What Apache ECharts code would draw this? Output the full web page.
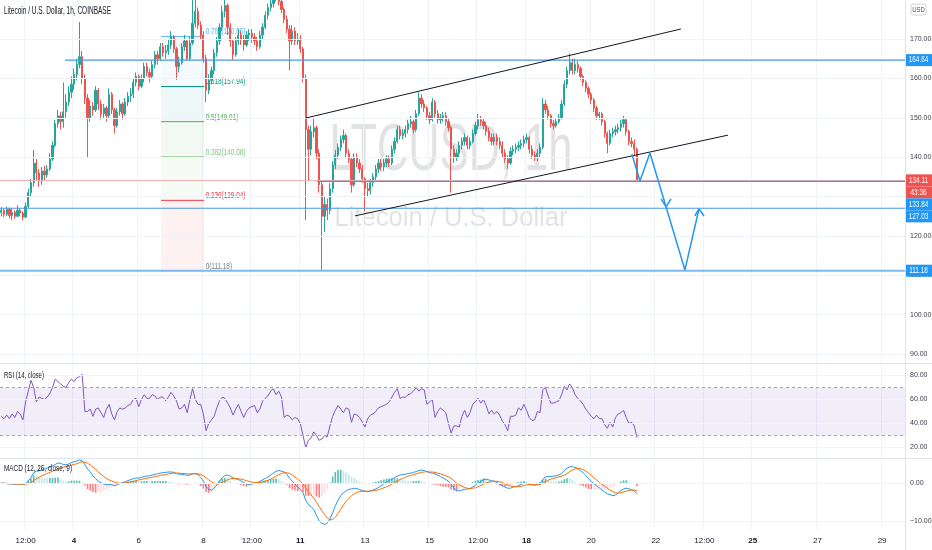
<!DOCTYPE html>
<html><head><meta charset="utf-8">
<script src="https://cdn.jsdelivr.net/npm/echarts@6/dist/echarts.min.js"></script>
<style>html,body{margin:0;padding:0;background:#fff}#c{width:932px;height:550px}</style>
</head><body><div id="c"></div>
<script>
// ---------------- DATA ----------------
const FIRST_SLOT = '2021-01-01 18:00';   // centre of first 2-hour slot
const SLOT_HOURS = 2;
const SLOT_COUNT = 336;

// [open, close, low, high], one per 2-hour slot
const candles = [
[126.0,126.5,125.0,127.3],[126.5,125.5,124.8,127.0],[125.5,126.8,125.0,127.5],[126.8,125.2,124.5,127.2],[125.2,126.0,124.0,126.8],
[126.0,125.0,124.3,126.5],[125.0,126.5,124.8,127.8],[126.5,125.8,125.0,127.0],[125.8,124.8,124.0,126.3],[124.8,127.5,124.5,128.5],
[127.5,131.0,127.0,132.0],[131.0,133.5,130.0,134.5],[133.5,138.5,132.5,141.8],[138.5,136.0,134.0,139.5],[136.0,134.0,132.5,137.0],
[134.0,136.5,133.0,137.5],[136.5,135.5,134.0,137.8],[135.5,137.0,134.8,138.0],[137.0,139.5,136.5,141.0],[139.5,143.0,139.0,144.0],
[143.0,148.5,142.5,149.5],[148.5,150.5,147.5,152.0],[150.5,149.0,147.0,151.5],[149.0,151.5,147.5,159.0],[151.5,154.0,150.0,156.0],
[154.0,156.5,153.0,158.0],[156.5,158.5,155.0,160.5],[158.5,161.0,157.0,162.5],[161.0,163.5,159.5,165.0],[163.5,165.5,162.5,174.3],
[165.5,160.0,158.5,167.0],[160.0,155.0,153.5,161.0],[155.0,150.0,140.0,156.0],[150.0,153.0,149.0,154.5],[153.0,152.0,150.5,154.0],
[152.0,157.0,151.5,158.0],[157.0,153.5,152.0,157.5],[153.5,151.0,149.5,154.5],[151.0,152.5,150.0,153.5],[152.5,150.5,149.0,153.0],
[150.5,156.0,150.0,157.5],[156.0,152.0,151.0,156.5],[152.0,148.0,146.0,152.5],[148.0,151.5,147.5,152.5],[151.5,153.5,150.5,154.5],
[153.5,151.0,149.5,154.0],[151.0,154.0,150.5,155.0],[154.0,155.5,153.0,156.5],[155.5,156.0,154.0,157.5],[156.0,159.0,155.0,160.0],
[159.0,160.5,158.0,161.5],[160.5,158.0,157.0,161.0],[158.0,160.0,157.5,161.0],[160.0,163.0,159.0,164.0],[163.0,161.5,160.5,164.0],
[161.5,160.5,159.0,162.5],[160.5,163.5,160.0,164.5],[163.5,166.0,162.5,167.0],[166.0,165.0,163.5,167.0],[165.0,168.0,164.5,169.0],
[168.0,166.5,165.5,169.0],[166.5,167.0,165.0,168.5],[167.0,168.5,166.0,170.0],[168.5,170.5,167.5,172.0],[170.5,167.5,166.5,171.0],
[167.5,163.0,159.6,168.0],[163.0,164.0,161.5,165.5],[164.0,168.0,163.5,169.0],[168.0,169.5,167.0,171.0],[169.5,165.0,164.5,170.0],
[165.0,169.0,164.5,170.5],[169.0,174.0,168.5,181.0],[174.0,177.0,173.0,182.0],[177.0,173.5,172.5,178.0],[173.5,171.0,170.0,174.5],
[171.0,165.0,164.0,172.0],[165.0,157.0,154.0,166.0],[157.0,159.5,156.0,161.0],[159.5,162.0,158.5,163.0],[162.0,166.5,161.0,167.5],
[166.5,169.5,165.5,170.5],[169.5,173.0,168.5,174.0],[173.0,177.0,172.0,178.5],[177.0,178.5,175.5,183.0],[178.5,173.0,171.0,179.0],
[173.0,169.5,168.0,174.0],[169.5,166.0,164.7,170.0],[166.0,169.5,165.5,170.5],[169.5,171.0,168.5,172.5],[171.0,170.0,168.5,172.0],
[170.0,168.5,167.0,171.0],[168.5,171.0,168.0,172.0],[171.0,171.5,169.5,172.5],[171.5,170.5,169.0,172.5],[170.5,169.5,168.5,171.5],
[169.5,168.0,167.0,170.5],[168.0,171.0,167.5,172.0],[171.0,173.0,170.0,174.0],[173.0,176.0,172.5,177.0],[176.0,178.0,175.0,179.0],
[178.0,179.0,177.0,180.5],[179.0,180.5,178.0,182.0],[180.5,181.5,179.5,184.0],[181.5,179.5,178.5,182.5],[179.5,177.5,176.5,180.5],
[177.5,175.0,174.0,178.0],[175.0,172.5,171.5,176.0],[172.5,169.5,162.0,173.5],[169.5,172.0,168.5,173.5],[172.0,169.5,168.5,173.0],
[169.5,170.0,168.5,171.5],[170.0,167.5,166.5,171.0],[167.5,160.0,159.0,168.0],[160.0,147.0,124.0,161.0],[147.0,142.0,134.0,148.0],
[142.0,146.5,140.5,148.0],[146.5,147.5,145.0,150.0],[147.5,141.0,139.5,148.0],[141.0,133.0,131.0,142.0],[133.0,125.0,111.2,134.0],
[125.0,128.0,121.0,130.0],[128.0,126.5,124.0,129.5],[126.5,132.0,125.5,133.5],[132.0,138.0,131.0,139.0],[138.0,140.5,137.0,141.8],
[140.5,142.5,139.5,143.5],[142.5,144.5,141.5,145.5],[144.5,145.5,143.5,147.0],[145.5,141.0,140.0,146.0],[141.0,139.5,138.5,142.0],
[139.5,133.0,131.0,140.0],[133.0,140.0,132.5,141.0],[140.0,138.5,137.5,141.0],[138.5,137.0,136.0,139.5],[137.0,134.5,133.5,138.0],
[134.5,132.0,126.2,135.0],[132.0,131.5,130.0,133.5],[131.5,133.5,130.5,134.5],[133.5,135.0,132.5,136.0],[135.0,137.0,134.0,138.0],
[137.0,138.5,136.0,139.5],[138.5,137.5,136.5,139.5],[137.5,138.5,136.5,139.5],[138.5,139.5,137.5,140.5],[139.5,138.5,137.5,140.5],
[138.5,142.0,138.0,143.0],[142.0,144.0,141.0,145.0],[144.0,147.0,143.5,148.0],[147.0,145.5,144.5,148.0],[145.5,146.0,144.5,147.0],
[146.0,147.0,145.0,148.0],[147.0,148.5,146.0,149.5],[148.5,149.0,147.5,150.5],[149.0,147.0,146.0,149.5],[147.0,151.0,146.5,152.0],
[151.0,155.0,150.5,156.5],[155.0,153.5,152.5,156.0],[153.5,152.5,151.5,154.5],[152.5,150.5,149.5,153.0],[150.5,149.5,148.5,151.5],
[149.5,154.0,149.0,155.0],[154.0,151.0,150.0,154.5],[151.0,149.5,148.5,152.0],[149.5,150.0,148.5,151.0],[150.0,150.5,149.0,151.5],
[150.5,149.0,148.0,151.5],[149.0,147.5,146.5,150.0],[147.5,142.0,131.0,148.0],[142.0,140.0,138.5,143.0],[140.0,141.0,139.0,142.0],
[141.0,143.0,140.0,144.0],[143.0,144.0,142.0,145.0],[144.0,145.0,143.0,146.0],[145.0,143.0,142.0,145.5],[143.0,144.0,142.0,145.0],
[144.0,146.0,143.5,147.0],[146.0,148.0,145.5,149.0],[148.0,149.5,147.0,151.0],[149.5,149.0,148.0,150.5],[149.0,148.0,147.0,150.0],
[148.0,146.5,145.5,149.0],[146.5,145.0,144.0,147.5],[145.0,144.0,143.0,146.0],[144.0,145.0,143.0,146.0],[145.0,144.0,143.0,146.0],
[144.0,143.0,142.0,145.0],[143.0,141.0,140.0,144.0],[141.0,139.5,138.5,142.0],[139.5,138.5,137.0,140.5],[138.5,141.5,138.0,142.5],
[141.5,142.0,140.5,143.0],[142.0,142.5,141.0,143.5],[142.5,143.0,141.5,144.0],[143.0,143.5,142.0,144.5],[143.5,144.5,142.5,145.5],
[144.5,145.0,143.5,146.0],[145.0,142.0,141.0,145.5],[142.0,140.5,139.5,143.0],[140.5,140.0,139.0,141.5],[140.0,141.0,139.0,142.0],
[141.0,142.5,140.0,143.5],[142.5,153.5,142.0,155.0],[153.5,152.0,151.0,154.5],[152.0,150.5,149.5,153.0],[150.5,148.5,147.5,151.0],
[148.5,148.0,147.0,149.5],[148.0,149.0,147.5,150.0],[149.0,150.0,148.5,151.0],[150.0,153.5,149.5,154.5],[153.5,158.5,153.0,159.5],
[158.5,162.0,157.5,163.0],[162.0,164.0,161.0,166.3],[164.0,162.0,161.0,165.0],[162.0,163.5,161.0,165.0],[163.5,162.5,161.5,164.5],
[162.5,160.5,159.5,163.0],[160.5,159.0,158.0,161.0],[159.0,157.5,156.5,159.5],[157.5,156.0,155.0,158.0],[156.0,154.5,153.5,156.5],
[154.5,152.5,151.5,155.0],[152.5,150.5,149.5,153.0],[150.5,151.0,149.5,151.5],[151.0,149.0,148.0,151.5],[149.0,146.0,145.0,149.5],
[146.0,143.5,141.0,146.5],[143.5,146.0,143.0,147.0],[146.0,146.5,145.0,147.5],[146.5,147.0,145.5,148.0],[147.0,147.5,146.0,148.5],
[147.5,148.5,146.5,149.5],[148.5,149.5,147.5,150.5],[149.5,146.5,145.5,150.0],[146.5,144.0,143.0,147.0],[144.0,143.5,142.5,145.0],
[143.5,142.0,140.5,144.5],[142.0,134.11,133.8,142.5]
];

const rsi = [
46,44,47,44,48,45,50,48,43,58, 67,76,70,58,62,61,60,62,65,70, 77,75,73,71,70,74,77,75,78,79,
81,50,50,52,46,52,53,49,45,52, 56,48,43,50,53,52,53,55,56,60, 61,54,60,64,61,61,64,63,60,62,
62,59,62,66,63,59,52,53,56,49, 60,69,60,56,56,48,34,40,43,46, 53,59,62,61,57,53,47,52,56,50,
45,50,53,54,55,49,52,59,61,63, 67,69,64,67,62,45,47,46,43,45, 44,40,30,20,26,28,33,30,26,27,
30,29,38,46,51,55,52,49,53,52, 41,48,47,45,41,37,44,47,48,50, 53,54,55,56,58,62,66,69,61,62,
62,64,65,67,70,67,69,68,56,58, 60,45,50,53,51,49,40,32,38,38, 37,46,51,45,49,56,58,61,57,60,
55,48,51,48,50,47,42,39,34,46, 46,47,53,51,56,51,45,42.5,43,50, 49,68,70,63,57,57,58,59,64,71,
68,73,70,64,61,59,56,52,49,46, 44,47,44,44,39,36,41,37,45,48, 49,51,45,40,41,38,28
];

const macd = [
0.1,0.0,-0.1,-0.2,-0.2,-0.3,-0.2,-0.2,-0.3,-0.1, 0.6,1.5,2.8,3.2,3.3,3.6,3.8,4.0,4.3,4.6,
5.0,5.4,5.3,5.0,4.9,5.1,5.5,5.7,5.9,6.2, 6.0,5.0,3.8,3.0,2.0,1.2,0.6,0.1,-0.2,-0.4,
-0.3,-0.4,-0.6,-0.4,-0.1,0.2,0.4,0.7,1.0,1.2, 1.4,1.4,1.5,1.8,1.9,2.0,2.2,2.4,2.5,2.7,
2.8,2.9,3.0,3.0,2.9,2.6,2.4,2.4,2.3,2.1, 2.2,2.5,2.6,2.3,1.6,0.6,-0.8,-1.6,-1.8,-1.3,
-0.5,0.6,1.5,2.1,2.2,1.9,1.4,1.2,1.0,0.6, 0.2,-0.2,-0.3,-0.2,0.0,0.2,0.5,0.9,1.3,1.7,
2.2,2.7,3.2,3.4,3.2,3.0,2.4,1.3,0.6,-0.2, -1.0,-1.6,-2.5,-4.5,-5.6,-6.2,-7.0,-8.5,-10.0,-10.6,
-10.9,-10.6,-9.5,-7.8,-6.0,-4.5,-3.3,-2.5,-2.0,-1.6, -1.5,-1.3,-1.4,-1.7,-1.9,-2.1,-2.2,-2.0,-1.8,-1.5,
-1.1,-0.7,-0.2,0.3,0.7,1.1,1.5,1.9,2.2,2.3, 2.4,2.6,2.7,2.9,3.1,3.4,3.5,3.4,3.1,2.8,
2.7,2.5,2.2,1.8,1.4,1.0,0.6,-0.3,-1.2,-2.0, -2.0,-1.8,-1.6,-1.5,-1.4,-1.0,-0.5,0.0,0.4,1.0,
1.1,0.9,0.7,0.5,0.2,-0.2,-0.6,-1.0,-1.3,-1.3, -1.0,-0.9,-0.6,-0.3,0.0,0.0,-0.2,-0.4,-0.5,-0.3,
0.0,1.0,1.7,1.8,1.8,1.9,2.0,2.2,2.6,3.3, 4.0,4.4,4.4,4.2,3.9,3.4,2.8,2.1,1.2,0.5,
-0.1,-0.6,-1.2,-1.8,-2.3,-2.8,-3.0,-3.3,-3.1,-2.6, -2.0,-1.5,-1.3,-1.5,-1.7,-2.0,-2.8
];

const signal = [
0.0,0.0,0.0,-0.1,-0.1,-0.2,-0.2,-0.2,-0.2,-0.2, -0.1,0.2,0.7,1.2,1.6,2.0,2.3,2.6,2.9,3.2,
3.5,3.8,4.1,4.3,4.4,4.6,4.8,5.0,5.2,5.5, 5.7,5.6,5.3,4.9,4.3,3.7,3.0,2.4,1.8,1.3,
0.9,0.6,0.3,0.1,0.0,0.0,0.1,0.2,0.4,0.5, 0.7,0.9,1.0,1.2,1.3,1.5,1.6,1.8,1.9,2.1,
2.2,2.3,2.5,2.6,2.7,2.7,2.7,2.6,2.6,2.5, 2.5,2.5,2.5,2.5,2.3,2.0,1.5,0.9,0.4,0.0,
-0.2,-0.1,0.2,0.6,0.9,1.2,1.3,1.3,1.2,1.1, 0.9,0.7,0.5,0.3,0.2,0.2,0.2,0.4,0.6,0.8,
1.1,1.5,1.9,2.3,2.6,2.8,2.8,2.6,2.2,1.7, 1.1,0.5,-0.2,-1.2,-2.2,-3.1,-4.0,-5.0,-6.2,-7.3,
-8.3,-9.2,-9.7,-9.6,-9.0,-8.0,-6.9,-5.8,-4.8,-4.0, -3.3,-2.8,-2.4,-2.2,-2.1,-2.1,-2.1,-2.1,-2.0,-1.9,
-1.7,-1.5,-1.2,-0.9,-0.6,-0.2,0.2,0.6,1.0,1.3, 1.6,1.9,2.1,2.3,2.5,2.7,2.9,3.0,3.1,3.0,
3.0,2.9,2.7,2.5,2.3,2.0,1.7,1.3,0.7,0.1, -0.4,-0.8,-1.1,-1.3,-1.4,-1.3,-1.2,-0.9,-0.6,-0.3,
0.1,0.3,0.5,0.6,0.5,0.4,0.2,-0.1,-0.4,-0.7, -0.8,-0.9,-0.9,-0.8,-0.6,-0.4,-0.3,-0.3,-0.4,-0.4,
-0.3,0.0,0.4,0.8,1.1,1.3,1.5,1.7,1.9,2.2, 2.6,3.1,3.5,3.8,4.0,3.9,3.6,3.2,2.7,2.1,
1.5,0.9,0.3,-0.3,-0.8,-1.3,-1.8,-2.2,-2.5,-2.6, -2.5,-2.3,-2.1,-1.9,-1.8,-1.8,-2.0
];

const histogram = [
0.1,0,-0.1,-0.1,-0.1,-0.1,0,0,-0.1,0.1, 0.7,1.3,2.1,2.0,1.7,1.6,1.5,1.4,1.4,1.4,
1.5,1.6,1.2,0.7,0.5,0.5,0.7,0.7,0.7,0.7, 0.3,-0.6,-1.5,-1.9,-2.3,-2.5,-2.4,-2.3,-2.0,-1.7,
-1.2,-1.0,-0.9,-0.5,-0.1,0.2,0.3,0.5,0.6,0.7, 0.7,0.5,0.5,0.6,0.6,0.5,0.6,0.6,0.6,0.6,
0.6,0.6,0.5,0.4,0.2,-0.1,-0.3,-0.2,-0.3,-0.4, -0.3,0,0.1,-0.2,-0.7,-1.4,-2.3,-2.5,-2.2,-1.3,
-0.3,0.7,1.3,1.5,1.3,0.7,0.1,-0.1,-0.2,-0.5, -0.7,-0.9,-0.8,-0.5,-0.2,0,0.3,0.5,0.7,0.9,
1.1,1.2,1.3,1.1,0.6,0.2,-0.4,-1.3,-1.6,-1.9, -2.1,-2.1,-2.3,-3.3,-3.4,-3.1,-3.0,-3.5,-3.8,-3.3,
-2.6,-1.4,0.2,1.8,3.0,3.5,3.6,3.3,2.8,2.4, 1.8,1.5,1.0,0.5,0.2,0,-0.1,0.1,0.2,0.4,
0.6,0.8,1.0,1.2,1.3,1.3,1.3,1.3,1.2,1.0, 0.8,0.7,0.6,0.6,0.6,0.7,0.6,0.4,0,-0.2,
-0.3,-0.4,-0.5,-0.7,-0.9,-1.0,-1.1,-1.6,-1.9,-2.1, -1.6,-1.0,-0.5,-0.2,0,0.3,0.7,0.9,1.0,1.3,
1.0,0.6,0.2,-0.1,-0.3,-0.6,-0.8,-0.9,-0.9,-0.6, -0.2,0,0.3,0.5,0.6,0.4,0.1,-0.1,-0.1,0.1,
0.3,1.0,1.3,1.0,0.7,0.6,0.5,0.5,0.7,1.1, 1.4,1.3,0.9,0.4,-0.1,-0.5,-0.8,-1.1,-1.5,-1.6,
-1.6,-1.5,-1.5,-1.5,-1.5,-1.5,-1.2,-1.1,-0.6,0, 0.5,0.8,0.8,0.4,0.1,-0.2,-0.8
];

const xTickTimes = ['2021-01-02 12:00','2021-01-04 00:00','2021-01-06 00:00','2021-01-08 00:00','2021-01-09 12:00',
  '2021-01-11 00:00','2021-01-13 00:00','2021-01-15 00:00','2021-01-16 12:00','2021-01-18 00:00','2021-01-20 00:00',
  '2021-01-22 00:00','2021-01-23 12:00','2021-01-25 00:00','2021-01-27 00:00','2021-01-29 00:00'];
const xTickLabels = ['12:00','4','6','8','12:00','11','13','15','12:00','18','20','22','12:00','25','27','29'];
const priceTicks = [90,100,110,120,130,140,150,160,170];
const rsiTicks = [20,40,60,80];
const macdTicks = [-10,0];

const fibLevels = ['0','0.236','0.382','0.5','0.618','0.786'];
const fibPrices = [111.18,129.04,140.08,149.01,157.94,170.65];
const fibSpan = [59.3, 75.3];                 // slot positions
const levelLines = [[164.64, 23.6],[133.84, 117.2],[127.03, -0.5],[111.18, -0.5]]; // [price, start slot]
const lastPrice = 134.11;
const countdown = '43:36';
const channelUpper = [[113.1,149.95],[252.3,172.54]];
const channelLower = [[131.3,125.1],[269.8,145.6]];
const projection = [[234.1,140.81],[237.1,133.96],[240.8,141.07],[246.8,127.36],[253.8,111.37],[259.0,126.85]];
const arrowHeads = [[[244.9,129.39],[246.8,127.36],[248.6,129.39]],[[257.5,125.08],[259.0,126.85],[260.9,125.08]]];

// ---------------- STYLE / LAYOUT ----------------
const UP = '#26a69a', DOWN = '#ef5350', GRID = '#f0f3fa', SEP = '#e0e3eb', TXT = '#131722';
const BLUE = '#2196f3', LINE_BLUE = '#4a97e4';
const FIB_COLORS = ['#787b86','#f23645','#81c784','#4caf50','#089981','#64b5f6'];
const FONT = '"Liberation Sans", sans-serif';
const AXIS_SIZE = 7;
const SQUEEZE = 0.75;   // horizontal text compression seen in the picture
const PRICE_MIN = 88.0, PRICE_MAX = 179.9;
const RSI_MIN = 11.25, RSI_MAX = 89.6;
const MACD_MIN = -12.4, MACD_MAX = 6.45;

function hrs(s){const [d,t]=s.split(' ');const [Y,M,D]=d.split('-').map(Number);const [h,m]=t.split(':').map(Number);return Date.UTC(Y,M-1,D,h,m)/3600000;}
const H0 = hrs(FIRST_SLOT);
const slotOf = s => (hrs(s)-H0)/SLOT_HOURS;
const categories = [];
for (let i=0;i<SLOT_COUNT;i++) categories.push(new Date((H0+i*SLOT_HOURS)*3600000).toISOString().slice(0,16).replace('T',' '));
const tickMap = new Map();
xTickTimes.forEach((t,i)=>{
  const d = new Date(hrs(t)*3600000);
  const bold = d.getUTCDay()===1 && t.endsWith('00:00');
  tickMap.set(Math.round(slotOf(t)), {text:xTickLabels[i], bold});
});
const isTick = (idx) => tickMap.has(idx);

function lineSeries(points, color, width, extra){
  return Object.assign({type:'line', xAxisIndex:1, yAxisIndex:0, data:points, symbol:'none', silent:true,
    lineStyle:{color, width}, z:5, animation:false}, extra||{});
}
function gridLines(xi, yi, ticks){
  return {type:'line', xAxisIndex:xi, yAxisIndex:yi, data:[], silent:true, z:0,
    markLine:{silent:true, symbol:['none','none'], label:{show:false}, animation:false,
      lineStyle:{color:GRID, width:1, type:'solid'}, data:ticks.map(v=>({yAxis:v}))}};
}
const yLabel = (ticks) => ({customValues:ticks, formatter:v=>(v<0?'\u2212':'')+Math.abs(v).toFixed(2),
  fontSize:AXIS_SIZE, color:'#3b3e48', fontFamily:FONT, margin:5});
const catAxis = (gi) => ({type:'category', gridIndex:gi, data:categories, boundaryGap:true,
  axisLine:{show:false}, axisTick:{show:false}, axisLabel:{show:false},
  splitLine:{show:true, interval:isTick, lineStyle:{color:GRID}}});

const series = [];
series.push(gridLines(1,0,priceTicks));
series.push(gridLines(2,1,rsiTicks));
series.push(gridLines(3,2,macdTicks));
const fibAreas = [];
for (let i=0;i<fibPrices.length-1;i++) {
  fibAreas.push([{coord:[fibSpan[0],fibPrices[i]], itemStyle:{color:FIB_COLORS[i+1], opacity:0.07}},{coord:[fibSpan[1],fibPrices[i+1]]}]);
}
series.push({type:'line', xAxisIndex:1, yAxisIndex:0, data:[], silent:true, z:1,
  markArea:{silent:true, data:fibAreas}});
series.push({type:'candlestick', xAxisIndex:0, yAxisIndex:0, data:candles, barWidth:'65%', z:3,
  itemStyle:{color:UP, color0:DOWN, borderColor:UP, borderColor0:DOWN, borderWidth:1},
  markLine:{silent:true, symbol:['none','none'], label:{show:false}, animation:false,
    lineStyle:{color:'#f6b0af', width:1, type:'solid'}, data:[{yAxis:lastPrice}]}});
fibPrices.forEach((p,i)=>{
  series.push(lineSeries([[fibSpan[0],p],[fibSpan[1],p]], FIB_COLORS[i], 1, {z:2}));
});
levelLines.forEach(([p,s])=>{
  series.push(lineSeries([[s,p],[SLOT_COUNT-0.5,p]], p===111.18?'#7fb8ee':LINE_BLUE, p===111.18?2:1.2));
});
series.push(lineSeries(channelUpper, TXT, 1));
series.push(lineSeries(channelLower, TXT, 1));
series.push(lineSeries(projection, BLUE, 1.5));
arrowHeads.forEach(a=>series.push(lineSeries(a, BLUE, 1.5)));
series.push({type:'line', xAxisIndex:2, yAxisIndex:1, data:rsi, symbol:'none', silent:true,
  lineStyle:{color:'#7e57c2', width:1}, z:3,
  markArea:{silent:true, itemStyle:{color:'rgba(126,87,194,0.1)'}, data:[[{yAxis:70},{yAxis:30}]]},
  markLine:{silent:true, symbol:['none','none'], label:{show:false}, animation:false,
    lineStyle:{color:'#a99cc4', width:1, type:[3,3]}, data:[{yAxis:70},{yAxis:30}]}});
series.push({type:'bar', xAxisIndex:3, yAxisIndex:2, data:histogram, barWidth:'60%', silent:true, z:2,
  itemStyle:{opacity:0.75, color:(p)=>{const v=histogram[p.dataIndex];const pr=p.dataIndex>0?histogram[p.dataIndex-1]:v;
    if (v>=0) return v>=pr?'#26a69a':'#b2dfdb'; return v<pr?'#ff5252':'#ffcdd2';}}});
series.push({type:'line', xAxisIndex:3, yAxisIndex:2, data:macd, symbol:'none', silent:true, lineStyle:{color:'#2196f3', width:1}, z:3});
series.push({type:'line', xAxisIndex:3, yAxisIndex:2, data:signal, symbol:'none', silent:true, lineStyle:{color:'#ff6d00', width:1}, z:3});

const gridBase = {left:0, right:27, containLabel:false, outerBoundsMode:'none'};
const option = {
  animation:false, backgroundColor:'#ffffff',
  grid:[Object.assign({top:0,height:362},gridBase),Object.assign({top:364,height:94},gridBase),Object.assign({top:459,height:71},gridBase)],
  xAxis:[
    catAxis(0),
    {type:'value', gridIndex:0, min:-0.5, max:SLOT_COUNT-0.5, show:false},
    catAxis(1),
    Object.assign(catAxis(2), {
      axisLine:{show:true, lineStyle:{color:SEP}},
      axisLabel:{show:true, interval:isTick, margin:7, fontSize:8, color:TXT, fontFamily:FONT,
        formatter:(v,idx)=>{const t=tickMap.get(idx); if(!t) return ''; return t.bold?'{b|'+t.text+'}':'{n|'+t.text+'}';},
        rich:{b:{fontWeight:'bold',fontSize:8,color:TXT,fontFamily:FONT},n:{fontSize:8,color:TXT,fontFamily:FONT}}}
    })
  ],
  yAxis:[
    {type:'value', gridIndex:0, position:'right', min:PRICE_MIN, max:PRICE_MAX, axisLine:{show:false}, axisTick:{show:false},
      splitLine:{show:false}, axisLabel:yLabel(priceTicks)},
    {type:'value', gridIndex:1, position:'right', min:RSI_MIN, max:RSI_MAX, axisLine:{show:false}, axisTick:{show:false},
      splitLine:{show:false}, axisLabel:yLabel(rsiTicks)},
    {type:'value', gridIndex:2, position:'right', min:MACD_MIN, max:MACD_MAX, axisLine:{show:false}, axisTick:{show:false},
      splitLine:{show:false}, axisLabel:yLabel(macdTicks)}
  ],
  series
};
const chart = echarts.init(document.getElementById('c'));
chart.setOption(option);

// ---------- overlay texts / tags ----------
const mctx = document.createElement('canvas').getContext('2d');
function fitScale(text, font, target){ mctx.font = font; return target / mctx.measureText(text).width; }
function txt(text, x, y, font, fill, scale, align){
  return {type:'text', x, y, z:100, silent:true, scaleX: scale,
    style:{text, font, fill, align:align||'left', textAlign:align||'left', verticalAlign:'middle', textVerticalAlign:'middle'}};
}
const els = [];
const WM1 = '66px ' + FONT, WM2 = '27px ' + FONT;
els.push(Object.assign(txt('LTCUSD, 1h', 451, 152, WM1, 'rgba(120,123,134,0.22)', fitScale('LTCUSD, 1h', WM1, 243), 'center'), {z:-1}));
els.push(Object.assign(txt('Litecoin / U.S. Dollar', 451, 219, WM2, 'rgba(120,123,134,0.22)', fitScale('Litecoin / U.S. Dollar', WM2, 233), 'center'), {z:-1}));
const F10 = '10px ' + FONT, F9 = '9px ' + FONT, F8 = '8.5px ' + FONT;
els.push(txt('Litecoin / U.S. Dollar, 1h, COINBASE', 4, 11, F10, TXT, fitScale('Litecoin / U.S. Dollar, 1h, COINBASE', F10, 107)));
els.push(txt('RSI (14, close)', 4, 376, F9, TXT, fitScale('RSI (14, close)', F9, 40)));
els.push(txt('MACD (12, 26, close, 9)', 4, 469, F9, TXT, fitScale('MACD (12, 26, close, 9)', F9, 68)));
// fib labels (beneath candles)
fibPrices.forEach((p,i)=>{
  const pt = chart.convertToPixel({xAxisIndex:1, yAxisIndex:0}, [fibSpan[1], p]);
  els.push(Object.assign(txt(fibLevels[i]+'('+p.toFixed(2)+')', pt[0]+1.5, pt[1]-4.5, F8, FIB_COLORS[i], SQUEEZE), {z:1}));
});
// separators
[[0,363.5,932,363.5],[0,458.5,932,458.5]].forEach(s=>els.push({type:'line', z:50, silent:true, shape:{x1:s[0],y1:s[1],x2:s[2],y2:s[3]}, style:{stroke:SEP, lineWidth:1}}));
els.push({type:'line', z:50, silent:true, shape:{x1:905.5,y1:0,x2:905.5,y2:550}, style:{stroke:SEP, lineWidth:1}});
// USD box
els.push({type:'rect', z:60, silent:true, shape:{x:911,y:4,width:15,height:11,r:2}, style:{fill:'#fff', stroke:'#d1d4dc', lineWidth:1}});
els.push(txt('USD', 918.5, 9.5, '8px ' + FONT, '#50535e', SQUEEZE, 'center'));
// price tags
const py = p => chart.convertToPixel({yAxisIndex:0}, p);
const tags = [
  {text:'164.64', y:py(164.64), color:BLUE},
  {text:lastPrice.toFixed(2), y:py(lastPrice), color:DOWN},
  {text:countdown, y:null, color:DOWN},
  {text:'133.84', y:py(133.84), color:BLUE},
  {text:'127.03', y:py(127.03), color:BLUE},
  {text:'111.18', y:py(111.18), color:BLUE}
];
let prev = -100; const H = 12;
tags.forEach(t=>{
  const y = t.y===null ? prev + H : Math.max(t.y, prev + H);
  prev = y;
  els.push({type:'rect', z:70, silent:true, shape:{x:906,y:y-H/2,width:26,height:H}, style:{fill:t.color}});
  els.push(Object.assign(txt(t.text, 918.5, y, '8.5px ' + FONT, '#ffffff', SQUEEZE, 'center'), {z:71}));
});
chart.setOption({graphic:{elements:els}});
</script></body></html>
